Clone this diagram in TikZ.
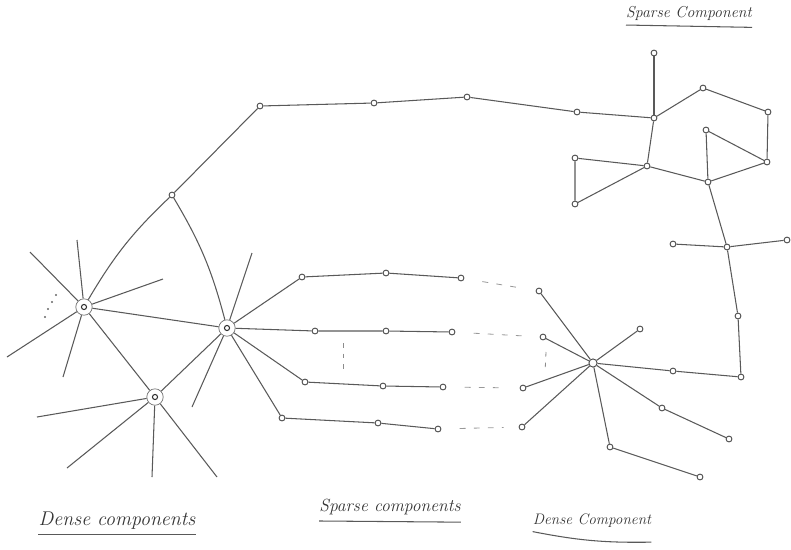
\documentclass[tikz,border=0pt]{standalone}
\usepackage{tikz}
\usetikzlibrary{calc}

\tikzset{
    pencil/.style={draw=black!65, line width=0.9pt},
    vert/.style={circle, draw=black!70, line width=0.8pt, inner sep=0pt, minimum size=5pt},
    hub/.style={circle, draw=black!55, line width=0.6pt, inner sep=0pt, minimum size=14pt,
        path picture={\draw[black!80, line width=0.9pt] (path picture bounding box.center) circle (2.2pt);}},
    gap/.style={draw=black!40, line width=0.7pt, dash pattern=on 5pt off 7pt,
        shorten <=0.55cm, shorten >=0.45cm},
    hand/.style={inner sep=0pt, text=black!80, font=\itshape}
}

\begin{document}
\begin{tikzpicture}[x=0.03cm, y=-0.03cm]
\useasboundingbox (0,0) rectangle (791,549);

% Dense components (left)
\node[hub] (hubA) at (84,307) {};
\node[hub] (hubB) at (227,328) {};
\node[hub] (hubC) at (155,397) {};
\node[vert] (t1) at (172,195) {};

\coordinate (a1) at (30,252);
\coordinate (a2) at (77,240);
\coordinate (a3) at (163,279);
\coordinate (a4) at (7,357);
\coordinate (a5) at (63,377);
\coordinate (b1) at (252,253);
\coordinate (b2) at (192,407);
\coordinate (c1) at (37,417);
\coordinate (c2) at (67,468);
\coordinate (c3) at (152,477);
\coordinate (c4) at (217,477);

\foreach \p in {a1,a2,a3,a4,a5} \draw[pencil] (hubA) -- (\p);
\foreach \p in {b1,b2} \draw[pencil] (hubB) -- (\p);
\foreach \p in {c1,c2,c3,c4} \draw[pencil] (hubC) -- (\p);
\draw[pencil] (hubA) -- (hubB);
\draw[pencil] (hubA) -- (hubC);
\draw[pencil] (hubC) -- (hubB);
\draw[pencil] (hubA) to[bend left=8] (t1);
\draw[pencil] (hubB) to[bend right=8] (t1);

% dots beside the first hub
\foreach \q in {(56,295),(52,302),(48,309),(45,317)}
    \fill[black!60] \q circle (1pt);

% Long path over the top
\node[vert] (t2) at (260,106) {};
\node[vert] (t3) at (374,103) {};
\node[vert] (t4) at (467,97) {};
\node[vert] (t5) at (577,112) {};
\draw[pencil] (t1) -- (t2);
\draw[pencil] (t2) -- (t3);
\draw[pencil] (t3) -- (t4);
\draw[pencil] (t4) -- (t5);

% Sparse components (rows)
\node[vert] (r11) at (302,277) {};
\node[vert] (r12) at (386,273) {};
\node[vert] (r13) at (461,278) {};
\node[vert] (r21) at (315,331) {};
\node[vert] (r22) at (386,331) {};
\node[vert] (r23) at (452,332) {};
\node[vert] (r31) at (305,382) {};
\node[vert] (r32) at (383,386) {};
\node[vert] (r33) at (443,387) {};
\node[vert] (r41) at (282,418) {};
\node[vert] (r42) at (378,423) {};
\node[vert] (r43) at (438,429) {};

\foreach \r in {r11,r21,r31,r41} \draw[pencil] (hubB) -- (\r);
\draw[pencil] (r11) -- (r12) -- (r13);
\draw[pencil] (r21) -- (r22) -- (r23);
\draw[pencil] (r31) -- (r32) -- (r33);
\draw[pencil] (r41) -- (r42) -- (r43);

% Dense component (right)
\node[vert, minimum size=7pt] (hubD) at (593,363) {};
\node[vert] (d1) at (539,291) {};
\node[vert] (d2) at (543,337) {};
\node[vert] (d3) at (523,388) {};
\node[vert] (d4) at (522,427) {};
\node[vert] (d5) at (640,329) {};
\node[vert] (d6) at (673,371) {};
\node[vert] (d7) at (662,408) {};
\node[vert] (d8) at (729,439) {};
\node[vert] (d9) at (610,447) {};
\node[vert] (d10) at (700,477) {};

\foreach \d in {d1,d2,d3,d4,d5,d6,d7,d9} \draw[pencil] (hubD) -- (\d);
\draw[pencil] (d7) -- (d8);
\draw[pencil] (d9) -- (d10);

% gaps between the rows and the right component
\draw[gap] (r13) -- (d1);
\draw[gap] (r23) -- (d2);
\draw[gap] (r33) -- (d3);
\draw[gap] (r43) -- (d4);
\draw[black!45, line width=0.7pt, dash pattern=on 4pt off 5pt] (343,343) -- (343,372);
\draw[black!45, line width=0.7pt, dash pattern=on 4pt off 5pt] (546,352) -- (545,373);

% Sparse component (top right)
\node[vert] (s1) at (654,53) {};
\node[vert] (s2) at (654,118) {};
\node[vert] (s3) at (703,88) {};
\node[vert] (s4) at (768,112) {};
\node[vert] (s5) at (767,162) {};
\node[vert] (s6) at (706,130) {};
\node[vert] (s7) at (708,182) {};
\node[vert] (s8) at (647,166) {};
\node[vert] (s9) at (575,158) {};
\node[vert] (s10) at (575,204) {};
\node[vert] (s11) at (727,247) {};
\node[vert] (s12) at (673,244) {};
\node[vert] (s13) at (787,240) {};
\node[vert] (s14) at (738,316) {};
\node[vert] (s15) at (741,377) {};

\draw[pencil] (t5) -- (s2);
\draw[pencil] (s1) -- (s2);
\draw[pencil] (s2) -- (s3) -- (s4) -- (s5);
\draw[pencil] (s6) -- (s5);
\draw[pencil] (s5) -- (s7);
\draw[pencil] (s6) -- (s7);
\draw[pencil] (s2) -- (s8);
\draw[pencil] (s8) -- (s7);
\draw[pencil] (s8) -- (s9) -- (s10) -- (s8);
\draw[pencil] (s7) -- (s11);
\draw[pencil] (s11) -- (s12);
\draw[pencil] (s11) -- (s13);
\draw[pencil] (s11) -- (s14) -- (s15);
\draw[pencil] (d6) -- (s15);

% Titles
\node[hand, font=\fontsize{17}{20}\selectfont\itshape] (ttl1) at (117,521) {Dense components};
\node[hand, font=\fontsize{15}{18}\selectfont\itshape] (ttl2) at (390,507) {Sparse components};
\node[hand, font=\fontsize{13}{16}\selectfont\itshape] (ttl3) at (592,521) {Dense Component};
\node[hand, font=\fontsize{13.5}{16}\selectfont\itshape] (ttl4) at (689,13) {Sparse Component};
\draw[pencil] ([yshift=-4pt]ttl1.south west) -- ([yshift=-4pt]ttl1.south east);
\draw[pencil] ([yshift=-5pt]ttl2.south west) -- ([yshift=-6pt]ttl2.south east);
\draw[pencil] ([yshift=-3pt]ttl3.south west) to[bend right=6] ([yshift=-12pt]ttl3.south east);
\draw[pencil] ([yshift=-4pt]ttl4.south west) -- ([yshift=-6pt]ttl4.south east);

\end{tikzpicture}
\end{document}
